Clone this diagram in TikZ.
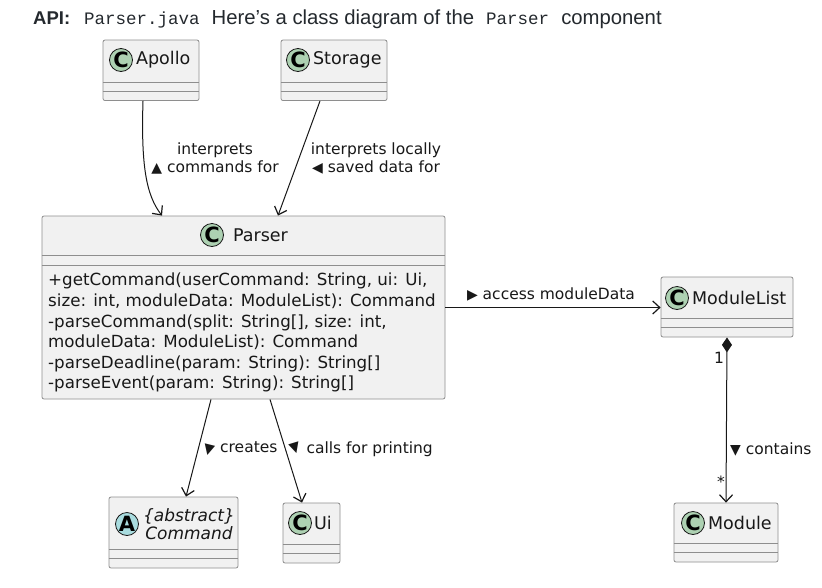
\documentclass[tikz,border=0pt]{standalone}
\usepackage{fontspec}
\usepackage{graphicx}
\setmainfont{DejaVu Sans}
\newfontfamily\titlefont{Liberation Sans}
\newfontfamily\codefont{Liberation Mono}
\usetikzlibrary{positioning,arrows.meta}

\definecolor{umlfill}{HTML}{F1F1F1}
\definecolor{umlline}{HTML}{8E8E8E}
\definecolor{umldark}{HTML}{181818}
\definecolor{cgreen}{HTML}{ADD1B2}
\definecolor{acyan}{HTML}{A9DCDF}
\definecolor{ink}{HTML}{24292E}

\newcommand{\dirmark}[1]{{\fontsize{14}{14}\selectfont #1}}

\begin{document}
\begin{tikzpicture}[x=1pt, y=-1pt,
        box/.style={draw=umlline, fill=umlfill, rounded corners=2pt, line width=.8pt, inner sep=0},
        sep/.style={draw=umlline, line width=.8pt},
        icon/.style={circle, draw=umldark, fill=cgreen, line width=.8pt, minimum size=23pt, inner sep=0,
          font=\bfseries\fontsize{21}{21}\selectfont},
        cname/.style={inner sep=0, font=\fontsize{17.5}{20}\selectfont, text=umldark},
        rel/.style={draw=umldark, line width=1pt, -{Straight Barb[length=7pt,width=13pt,line width=1.2pt]}},
        lbl/.style={inner sep=0, font=\fontsize{15.5}{18}\selectfont, text=umldark}]

      \path[use as bounding box, fill=white] (0,0) rectangle (822,587);

      % heading line
      \node[anchor=base west, inner sep=0, text=ink] (title) at (33,24)
        {\titlefont\fontsize{18.5}{20}\selectfont\bfseries API:\hspace{14pt}%
         \mdseries\codefont\fontsize{17.5}{20}\selectfont Parser.java\hspace{12pt}%
         \titlefont\fontsize{20.3}{20}\selectfont Here’s a class diagram of the\hspace{12pt}%
         \codefont\fontsize{17.5}{20}\selectfont Parser\hspace{12pt}%
         \titlefont\fontsize{20.3}{20}\selectfont component};

      % classes
      \node[box, minimum width=96pt, minimum height=60.5pt] (apollo) at (151,70.3) {};
      \node[icon] (apolloI) at (121,60) {C};
      \node[cname, right=3pt of apolloI] (apolloN) {Apollo};

      \node[box, minimum width=106pt, minimum height=60.5pt] (storage) at (334,70.3) {};
      \node[icon] (storageI) at (298,60) {C};
      \node[cname, right=3pt of storageI] (storageN) {Storage};

      \node[box, minimum width=132pt, minimum height=60pt] (mlist) at (727,307) {};
      \node[icon] (mlistI) at (677,298) {C};
      \node[cname, right=3pt of mlistI] (mlistN) {ModuleList};

      \node[box, minimum width=104pt, minimum height=59pt] (module) at (726,532.5) {};
      \node[icon] (moduleI) at (693,523) {C};
      \node[cname, right=3pt of moduleI] (moduleN) {Module};

      \node[box, minimum width=129pt, minimum height=71pt] (command) at (173.5,532.5) {};
      \node[icon, fill=acyan] (commandI) at (127,524) {A};
      \node[cname, right=4pt of commandI, align=center, font=\itshape\fontsize{17}{18}\selectfont]
        (commandN) {\{abstract\}\\Command};

      \node[box, minimum width=57pt, minimum height=60pt] (ui) at (311.5,533) {};
      \node[icon] (uiI) at (300,523) {C};
      \node[cname, right=2pt of uiI] (uiN) {Ui};

      \foreach \c in {apollo,storage,mlist,module,command,ui} {
        \draw[sep] ([yshift=19pt]\c.south west) -- ([yshift=19pt]\c.south east);
        \draw[sep] ([yshift=10pt]\c.south west) -- ([yshift=10pt]\c.south east);
      }

      % Parser
      \node[box, minimum width=403pt, minimum height=183pt] (parser) at (243.5,307.5) {};
      \node[icon] (parserI) at (212,235) {C};
      \node[cname, right=9pt of parserI] (parserN) {Parser};
      \draw[sep] ([yshift=-40pt]parser.north west) -- ([yshift=-40pt]parser.north east);
      \draw[sep] ([yshift=-50pt]parser.north west) -- ([yshift=-50pt]parser.north east);
      \node[cname, anchor=north west, align=left, font=\fontsize{16.7}{20.6}\selectfont] (methods) at (48,273)
        {+getCommand(userCommand: String, ui: Ui,\\
         size: int, moduleData: ModuleList): Command\\
         -parseCommand(split: String[], size: int,\\
         moduleData: ModuleList): Command\\
         -parseDeadline(param: String): String[]\\
         -parseEvent(param: String): String[]};

      % relations
      \draw[rel] ([xshift=-8pt]apollo.south) .. controls (141,165) and (146,195) .. ([xshift=-81.5pt]parser.north);
      \node[lbl, align=center] (apolloL) at (215,158)
        {interprets\\\dirmark{▲} commands for};

      \draw[rel] ([xshift=-14pt]storage.south) -- ([xshift=34.5pt]parser.north);
      \node[lbl, align=center] (storageL) at (376,158)
        {interprets locally\\\dirmark{◀} saved data for};

      \draw[rel] (parser.east) -- (parser.east -| mlist.west);
      \node[lbl] (accessL) at (551,294) {\dirmark{▶} access moduleData};

      \draw[rel, {Diamond[length=15pt,width=10pt]}-{Straight Barb[length=7pt,width=13pt,line width=1.2pt]}] (mlist.south) -- (module.north);
      \node[lbl] (oneL) at (719,358) {1};
      \node[lbl] (manyL) at (721,482) {*};
      \node[lbl, anchor=west] (containsL) at (730,449) {\dirmark{▼} contains};

      \draw[rel] ([xshift=-32.5pt]parser.south) -- ([xshift=12.5pt]command.north);
      \node[lbl, anchor=west] (createsL) at (202,449) {\dirmark{\rotatebox{-14}{▼}} creates};

      \draw[rel] ([xshift=26.5pt]parser.south) -- ([xshift=-9.5pt]ui.north);
      \node[lbl, anchor=west] (printL) at (288,449) {\dirmark{\rotatebox{17}{▼}} calls for printing};
    \end{tikzpicture}
\end{document}
